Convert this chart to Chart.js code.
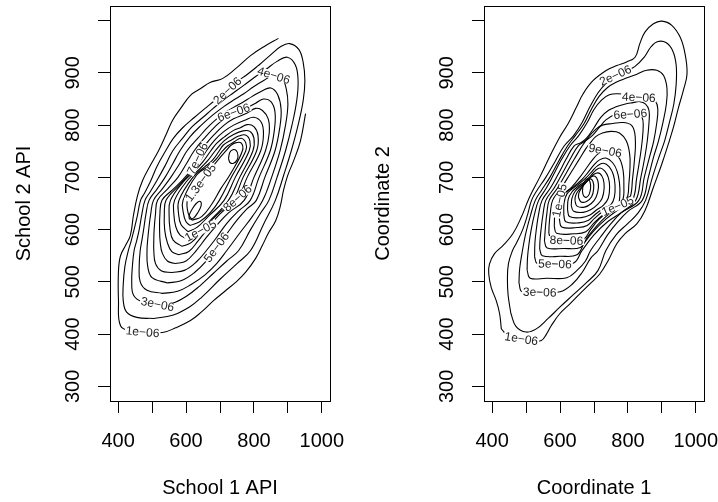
<!DOCTYPE html>
<html><head><meta charset="utf-8">
<script src="https://cdn.jsdelivr.net/npm/chart.js@4.4.1/dist/chart.umd.min.js"></script>
<style>
html,body{margin:0;padding:0;background:#fff;}
.p{position:absolute;top:0;}
</style>
</head><body>
<div class="p" style="left:0px"><canvas id="c1" width="359" height="502"></canvas></div>
<div class="p" style="left:359px"><canvas id="c2" width="359" height="502"></canvas></div>
<script>
const xTicks = [400,500,600,700,800,900,1000];
const xTickLabels = ['400','','600','','800','','1000'];
const yTicks = [300,400,500,600,700,800,900,1000];
const yTickLabels = ['300','400','500','600','700','800','900',''];
const xLimits = [376,1024];
const yLimits = [272,1028];

// ---- Left panel contours (School 1 API vs School 2 API), outer to inner ----
const leftC1 = [[872,966],[834,952],[790,933],[746,908],[707,889],[672,882],[643,870],[613,857],[584,832],[560,809],[540,780],[519,751],[495,723],[472,694],[457,665],[445,627],[436,589],[422,570],[407,550],[401,522],[401,464],[407,416],[440,405],[475,403],[531,403],[569,412],[613,426],[643,441],[681,464],[716,483],[746,499],[775,518],[805,545],[825,570],[843,594],[864,617],[878,646],[887,675],[899,703],[917,732],[937,770],[952,822]];
const leftC2 = [[505,430],[560,436],[610,452],[645,470],[700,505],[750,535],[790,560],[828,610],[863,656],[888,705],[910,751],[930,800],[945,847],[950,885],[945,920],[932,945],[905,956],[878,950],[850,935],[815,915],[780,897],[750,883],[722,866],[690,850],[660,834],[625,815],[590,795],[563,775],[540,751],[515,722],[495,692],[478,670],[466,656],[456,625],[445,595],[437,575],[430,560],[420,530],[415,495],[415,464],[425,442],[455,432],[505,430]];
const leftC3 = [[516,456],[560,459],[600,472],[640,492],[680,516],[720,540],[755,560],[790,600],[818,630],[844,656],[868,700],[893,751],[912,800],[926,847],[930,885],[922,915],[898,930],[868,922],[838,908],[805,893],[770,876],[740,862],[710,848],[680,832],[650,815],[618,797],[590,775],[561,751],[538,722],[515,695],[495,673],[479,656],[470,630],[462,600],[455,580],[447,560],[442,530],[440,500],[445,475],[470,462],[516,456]];
const leftC4 = [[530,478],[575,482],[615,495],[655,513],[690,535],[720,560],[760,595],[795,625],[826,656],[852,700],[877,751],[893,800],[900,840],[895,870],[882,890],[858,895],[830,886],[800,874],[770,860],[740,848],[710,835],[680,820],[645,800],[612,778],[582,751],[560,725],[538,700],[515,678],[491,656],[482,630],[475,600],[470,580],[465,560],[462,530],[465,500],[485,484],[530,478]];
const leftC5 = [[545,498],[585,502],[625,518],[660,540],[690,566],[720,592],[750,618],[780,640],[807,656],[832,700],[862,751],[876,795],[880,830],[870,858],[850,871],[825,866],[795,855],[765,843],[740,834],[710,822],[670,800],[635,775],[603,751],[580,725],[555,700],[530,678],[504,656],[496,630],[490,600],[487,580],[485,560],[487,530],[500,508],[545,498]];
const leftC6 = [[558,518],[595,522],[630,538],[660,560],[690,585],[720,612],[755,636],[789,656],[815,700],[848,751],[860,790],[862,825],[850,845],[828,850],[805,842],[775,832],[740,824],[712,812],[690,800],[658,778],[624,751],[600,725],[576,700],[546,678],[516,656],[510,630],[506,600],[505,580],[505,560],[510,535],[528,521],[558,518]];
const leftC7 = [[568,535],[600,540],[630,560],[660,585],[690,608],[725,632],[771,656],[800,700],[834,751],[845,785],[842,812],[825,828],[805,832],[780,823],[740,812],[712,800],[680,780],[660,765],[645,751],[634,736],[615,715],[590,695],[560,676],[529,656],[523,630],[522,600],[524,575],[530,555],[545,540],[568,535]];
const leftC8 = [[578,552],[608,558],[635,578],[665,603],[700,630],[752,660],[780,700],[820,751],[828,782],[822,805],[800,815],[775,810],[740,800],[712,788],[685,772],[660,751],[640,730],[615,710],[580,685],[541,656],[536,630],[537,600],[545,575],[558,558],[578,552]];
const leftC9 = [[588,568],[615,575],[648,598],[690,628],[738,656],[768,700],[808,751],[812,780],[800,797],[780,801],[760,795],[740,790],[712,777],[690,765],[673,751],[650,730],[625,712],[590,690],[554,656],[550,630],[553,600],[562,580],[588,568]];
const leftC10 = [[600,583],[620,590],[643,598],[675,620],[725,656],[758,700],[797,751],[800,775],[788,788],[768,789],[740,782],[712,770],[686,751],[665,733],[640,716],[605,695],[566,656],[564,630],[570,605],[582,590],[600,583]];
const leftC11 = [[606,596],[632,604],[665,625],[712,656],[745,700],[786,751],[788,770],[775,781],[755,779],[735,772],[710,762],[698,751],[678,733],[655,720],[620,700],[579,656],[578,630],[585,610],[606,596]];
const leftC12 = [[612,608],[640,615],[672,633],[698,656],[735,702],[776,751],[776,766],[762,775],[742,768],[722,760],[708,751],[690,736],[668,722],[632,705],[591,656],[592,632],[600,615],[612,608]];
const leftC13 = [[618,618],[646,625],[675,648],[702,678],[732,708],[766,751],[762,766],[745,766],[730,760],[718,751],[700,738],[680,722],[660,705],[643,690],[620,668],[604,656],[606,632],[618,618]];
const leftC14a = [[725,736],[730,728],[740,727],[750,733],[753,742],[748,751],[738,753],[729,748],[725,736]];
const leftC14b = [[610,620],[622,622],[634,632],[644,645],[642,654],[630,650],[617,638],[609,627],[610,620]];
const leftContours = [leftC1,leftC2,leftC3,leftC4,leftC5,leftC6,leftC7,leftC8,leftC9,leftC10,leftC11,leftC12,leftC13,leftC14a,leftC14b];
const leftLabels = [
  {text:'1e\u221206', c:0, x:472, y:404},
  {text:'2e\u221206', c:1, x:722, y:866},
  {text:'3e\u221206', c:2, x:516, y:457},
  {text:'4e\u221206', c:3, x:858, y:895},
  {text:'5e\u221206', c:4, x:690, y:566},
  {text:'6e\u221206', c:5, x:740, y:824},
  {text:'7e\u221206', c:6, x:634, y:736},
  {text:'8e\u221206', c:7, x:752, y:660},
  {text:'1e\u221205', c:9, x:643, y:598},
  {text:'1.3e\u221205', c:12, x:643, y:690}
];

// ---- Right panel contours (Coordinate 1 vs Coordinate 2), outer to inner ----
const rightC1 = [[427,410],[422,439],[412,464],[397,490],[390,515],[392,534],[407,554],[431,569],[461,592],[486,624],[510,662],[540,700],[569,739],[599,777],[624,803],[648,834],[668,860],[697,885],[737,905],[767,914],[796,921],[821,930],[835,956],[850,978],[875,994],[900,999],[929,991],[954,968],[968,937],[974,898],[963,866],[949,834],[934,796],[919,764],[900,726],[875,681],[850,636],[826,611],[791,592],[767,573],[742,541],[717,515],[688,496],[658,477],[629,458],[599,439],[574,416],[560,400],[545,388],[515,388],[486,391],[450,395],[427,410]];
const rightC2 = [[455,440],[470,415],[500,404],[530,410],[565,430],[600,452],[640,476],[680,500],[712,522],[735,560],[765,590],[800,612],[830,632],[852,656],[872,700],[892,740],[908,770],[922,805],[935,840],[942,878],[942,915],[932,942],[912,958],[888,960],[868,950],[848,930],[820,912],[790,903],[763,895],[738,882],[712,862],[688,835],[665,805],[640,780],[612,760],[585,730],[558,700],[532,675],[516,656],[505,630],[490,600],[472,575],[460,560],[448,535],[445,505],[447,475],[455,440]];
const rightC3 = [[479,498],[488,481],[540,480],[600,481],[635,495],[665,518],[690,545],[712,560],[740,590],[770,615],[800,635],[842,656],[860,700],[876,740],[890,770],[903,805],[913,840],[915,870],[905,895],[885,905],[855,905],[825,897],[795,890],[765,882],[740,872],[715,855],[692,830],[670,802],[645,780],[622,760],[595,730],[570,700],[545,675],[527,656],[512,625],[498,590],[488,555],[481,525],[479,498]];
const rightC4 = [[503,522],[512,507],[560,507],[620,508],[650,522],[675,540],[690,560],[718,585],[748,610],[780,632],[832,656],[848,700],[864,740],[876,770],[885,805],[888,830],[882,845],[865,852],[832,853],[800,858],[770,860],[745,858],[722,848],[700,830],[680,805],[655,780],[629,760],[605,735],[583,708],[560,680],[537,656],[525,630],[515,600],[508,570],[504,545],[503,522]];
const rightC5 = [[525,548],[533,535],[585,534],[640,536],[665,560],[700,590],[740,615],[785,635],[823,656],[838,700],[850,740],[857,770],[862,805],[862,828],[852,840],[835,845],[815,843],[790,840],[765,835],[742,828],[720,815],[700,795],[678,775],[660,766],[641,760],[618,735],[596,708],[572,680],[547,656],[537,630],[530,600],[526,575],[525,548]];
const rightC6 = [[540,563],[548,550],[600,549],[650,552],[672,575],[700,598],[735,620],[775,640],[813,656],[826,700],[836,740],[842,770],[845,800],[842,814],[830,822],[807,821],[785,823],[760,820],[735,810],[715,795],[695,780],[675,770],[653,760],[630,735],[607,708],[583,680],[558,656],[550,630],[544,600],[541,580],[540,563]];
const rightC7 = [[554,578],[562,565],[610,564],[660,566],[680,585],[705,605],[735,625],[770,642],[803,656],[814,700],[820,740],[822,760],[820,785],[810,800],[785,805],[755,803],[725,800],[705,792],[685,778],[665,760],[642,735],[618,708],[593,680],[568,656],[561,630],[557,605],[554,578]];
const rightC8 = [[567,593],[575,580],[619,579],[668,581],[690,600],[715,620],[750,638],[794,656],[803,690],[806,720],[805,745],[795,770],[775,785],[750,788],[725,785],[705,778],[688,765],[676,755],[655,733],[630,707],[604,680],[578,656],[571,630],[568,610],[567,593]];
const rightC9 = [[583,606],[590,593],[640,592],[676,596],[700,613],[730,630],[762,645],[784,656],[788,685],[786,712],[776,735],[758,748],[733,751],[712,745],[695,733],[678,718],[658,700],[635,682],[610,668],[592,656],[585,635],[583,606]];
const rightC10 = [[598,620],[605,605],[650,604],[680,608],[702,622],[728,635],[752,640],[770,645],[776,665],[775,690],[768,712],[755,728],[735,737],[715,733],[700,724],[683,710],[663,695],[640,682],[618,672],[602,665],[599,656],[598,640],[598,620]];
const rightC11 = [[611,628],[617,615],[655,613],[684,618],[705,630],[727,640],[750,648],[760,662],[762,685],[757,705],[745,720],[728,727],[710,722],[695,712],[678,700],[657,688],[636,678],[620,668],[612,652],[611,628]];
const rightC12 = [[622,638],[628,625],[662,623],[688,628],[708,638],[728,647],[742,660],[746,682],[742,700],[732,712],[718,718],[704,713],[690,703],[673,692],[652,682],[635,672],[624,658],[622,638]];
const rightC13 = [[633,646],[640,635],[668,633],[690,638],[710,648],[724,660],[730,680],[727,697],[718,707],[706,708],[693,702],[678,692],[660,683],[644,673],[635,660],[633,646]];
const rightC14 = [[644,655],[650,645],[672,643],[692,650],[706,662],[713,680],[711,694],[703,702],[692,701],[680,693],[665,683],[651,672],[645,663],[644,655]];
const rightC15 = [[654,662],[662,653],[678,654],[693,663],[699,678],[697,692],[688,697],[676,690],[664,680],[656,671],[654,662]];
const rightC16 = [[666,672],[670,664],[678,662],[686,668],[690,680],[688,692],[682,697],[674,694],[668,685],[666,672]];
const rightContours = [rightC1,rightC2,rightC3,rightC4,rightC5,rightC6,rightC7,rightC8,rightC9,rightC10,rightC11,rightC12,rightC13,rightC14,rightC15,rightC16];
const rightLabels = [
  {text:'1e\u221206', c:0, x:486, y:391},
  {text:'2e\u221206', c:1, x:763, y:895},
  {text:'3e\u221206', c:2, x:540, y:480},
  {text:'4e\u221206', c:3, x:832, y:853},
  {text:'5e\u221206', c:4, x:585, y:534},
  {text:'6e\u221206', c:5, x:807, y:821},
  {text:'8e\u221206', c:7, x:619, y:579},
  {text:'9e\u221206', c:8, x:733, y:751},
  {text:'1e\u221205', c:9, x:599, y:656},
  {text:'1e\u221205', c:9, x:770, y:645}
];

const FONT = "'Liberation Sans', Arial, Helvetica, sans-serif";

const framePlugin = {
  id:'frame',
  afterDraw(chart){
    const {ctx, chartArea:a} = chart;
    ctx.save();
    ctx.strokeStyle='#000'; ctx.lineWidth=1;
    ctx.strokeRect(Math.round(a.left)+0.5, Math.round(a.top)+0.5, Math.round(a.right-a.left), Math.round(a.bottom-a.top));
    ctx.restore();
  }
};

const labelPlugin = {
  id:'clabels',
  afterDatasetsDraw(chart, args, opts){
    const {ctx} = chart;
    const xs = chart.scales.x, ys = chart.scales.y;
    ctx.save();
    ctx.font = '12px ' + FONT;
    ctx.textAlign='center'; ctx.textBaseline='middle';
    for (const L of opts.labels){
      const px = xs.getPixelForValue(L.x), py = ys.getPixelForValue(L.y);
      const pts = opts.contours[L.c].map(p=>[xs.getPixelForValue(p[0]), ys.getPixelForValue(p[1])]);
      let best=1e9, ang=0;
      for (let i=0;i<pts.length-1;i++){
        const [x1,y1]=pts[i],[x2,y2]=pts[i+1];
        const dx=x2-x1, dy=y2-y1, l2=dx*dx+dy*dy||1;
        let t=((px-x1)*dx+(py-y1)*dy)/l2; t=Math.max(0,Math.min(1,t));
        const qx=x1+t*dx-px, qy=y1+t*dy-py, d=qx*qx+qy*qy;
        if(d<best){best=d; ang=Math.atan2(dy,dx);}
      }
      if (ang>Math.PI/2) ang-=Math.PI; if (ang<-Math.PI/2) ang+=Math.PI;
      const w = ctx.measureText(L.text).width;
      ctx.save();
      ctx.translate(px,py); ctx.rotate(ang);
      ctx.fillStyle='#fff'; ctx.fillRect(-w/2-1,-4,w+2,8);
      ctx.fillStyle='#222'; ctx.fillText(L.text,0,0.5);
      ctx.restore();
    }
    ctx.restore();
  }
};

function makePanel(id, contours, labels, xTitle, yTitle, yAxisWidth, rightPad){
  const datasets = contours.map(c=>({
    data: c.map(p=>({x:p[0], y:p[1]})),
    showLine:true, borderColor:'#000', borderWidth:1.1, pointRadius:0,
    tension:0.4, fill:false
  }));
  return new Chart(document.getElementById(id), {
    type:'scatter',
    data:{datasets},
    plugins:[framePlugin, labelPlugin],
    options:{
      responsive:false, animation:false, devicePixelRatio:1,
      layout:{padding:{left:0, top:6, right:rightPad, bottom:0}},
      plugins:{legend:{display:false}, tooltip:{enabled:false}, clabels:{labels, contours}},
      scales:{
        x:{type:'linear', min:xLimits[0], max:xLimits[1],
           afterBuildTicks:s=>{s.ticks = xTicks.map(v=>({value:v}));},
           afterFit:s=>{s.height=101; s.paddingLeft=0; s.paddingRight=0;},
           ticks:{callback:v=>xTickLabels[xTicks.indexOf(v)], autoSkip:false, maxRotation:0, minRotation:0,
                  font:{family:FONT, size:20}, color:'#000', padding:16},
           grid:{drawOnChartArea:false, drawTicks:true, tickLength:12, color:'#000', tickColor:'#000', lineWidth:1},
           border:{display:false},
           title:{display:true, text:xTitle, font:{family:FONT, size:20}, color:'#000', padding:{top:0,bottom:2}}},
        y:{type:'linear', min:yLimits[0], max:yLimits[1],
           afterBuildTicks:s=>{s.ticks = yTicks.map(v=>({value:v}));},
           afterFit:s=>{s.width=yAxisWidth; s.paddingTop=0; s.paddingBottom=0;},
           ticks:{callback:v=>yTickLabels[yTicks.indexOf(v)], autoSkip:false, minRotation:90, maxRotation:90,
                  crossAlign:'center', font:{family:FONT, size:20}, color:'#000', padding:8},
           grid:{drawOnChartArea:false, drawTicks:true, tickLength:12, color:'#000', tickColor:'#000', lineWidth:1},
           border:{display:false},
           title:{display:true, text:yTitle, font:{family:FONT, size:20}, color:'#000', padding:{top:12,bottom:0}}}
      }
    }
  });
}

makePanel('c1', leftContours, leftLabels, 'School 1 API', 'School 2 API', 110, 29);
makePanel('c2', rightContours, rightLabels, 'Coordinate 1', 'Coordinate 2', 125, 14);
</script>
</body></html>
